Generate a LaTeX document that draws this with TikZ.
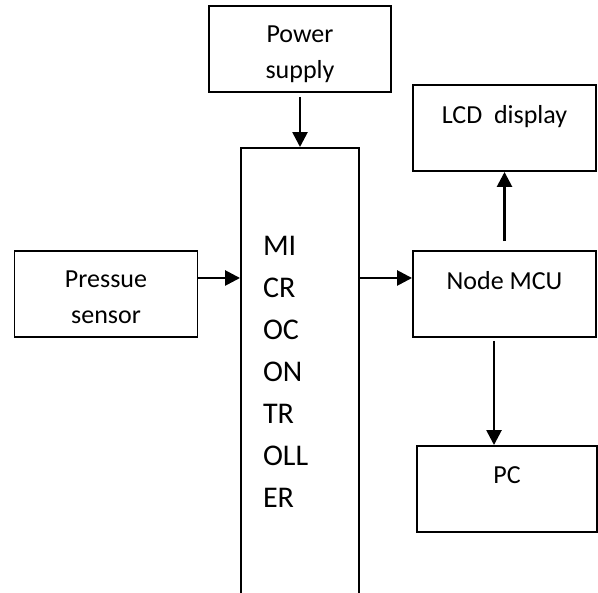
\documentclass[tikz,border=0pt]{standalone}
\usepackage{fontspec}
\setmainfont{Carlito}
\usepackage{tikz}
\usetikzlibrary{arrows.meta,positioning}

\begin{document}
\begin{tikzpicture}[
    box/.style={draw,line width=1.1pt,minimum width=3.66cm,minimum height=1.72cm},
    txt/.style={align=center,font=\fontsize{14.8}{20.5}\selectfont},
    arr/.style={line width=1.5pt,-{Triangle[length=0.3cm,width=0.3cm]}}]
    \useasboundingbox (0,0) rectangle (11.96,11.84);
    % Power supply
    \node[box,minimum width=3.64cm] (power) at (6.0,10.86) {};
    \node[txt] (powertxt) at ([yshift=-0.11cm]power.center) {Power\\supply};
    % Microcontroller
    \node[draw,line width=1.1pt,minimum height=8.94cm,text width=1.48cm,inner xsep=0.44cm,
        align=left,font=\fontsize{17.1}{23.9}\selectfont] (micro) at (6.0,4.41)
        {MI\\CR\\OC\\ON\\TR\\OLL\\ER};
    % Sensor
    \node[box] (sensor) at (2.12,5.96) {};
    \node[txt] (sensortxt) at ([yshift=-0.07cm]sensor.center) {Pressue\\sensor};
    % Node MCU and display
    \node[box] (mcu) at (10.09,5.96) {};
    \node[txt] (mcutxt) at ([yshift=-0.09cm]mcu.center) {Node MCU\\~};
    \node[box] (lcd) at (10.09,9.28) {};
    \node[txt] (lcdtxt) at ([yshift=-0.09cm]lcd.center) {LCD~~display\\~};
    % PC
    \node[box,minimum width=3.6cm] (pc) at (10.14,2.06) {};
    \node[txt] (pctxt) at ([yshift=-0.09cm]pc.center) {PC\\~};
    % Arrows
    \draw[arr,shorten <=0.08cm] (power.south) -- (micro.north);
    \draw[arr] ([yshift=0.32cm]sensor.east) -- ([yshift=0.32cm]sensor.east -| micro.west);
    \draw[arr] ([yshift=0.32cm]mcu.west -| micro.east) -- ([yshift=0.32cm]mcu.west);
    \draw[arr,shorten <=0.18cm] (mcu.north) -- (lcd.south);
    \draw[arr,shorten <=0.06cm] ([xshift=-0.21cm]mcu.south) -- ([xshift=-0.21cm]mcu.south |- pc.north);
\end{tikzpicture}
\end{document}
